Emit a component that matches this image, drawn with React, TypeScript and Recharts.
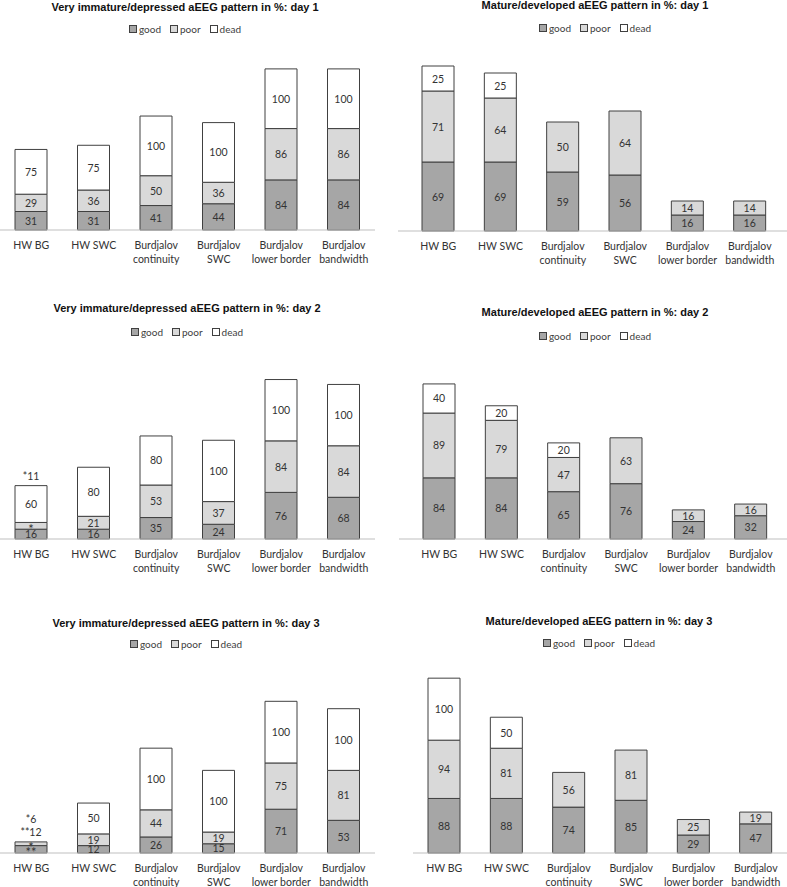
import React from 'react';
import { BarChart, Bar, XAxis, YAxis, LabelList } from 'recharts';

const categories = [
  'HW BG',
  'HW SWC',
  'Burdjalov continuity',
  'Burdjalov SWC',
  'Burdjalov lower border',
  'Burdjalov bandwidth',
];

const seriesNames = ['good', 'poor', 'dead'];

// very immature / depressed pattern
const immatureDay1Good = [31, 31, 41, 44, 84, 84];
const immatureDay1Poor = [29, 36, 50, 36, 86, 86];
const immatureDay1Dead = [75, 75, 100, 100, 100, 100];

const immatureDay2Good = [16, 16, 35, 24, 76, 68];
const immatureDay2Poor = [11, 21, 53, 37, 84, 84];
const immatureDay2Dead = [60, 80, 80, 100, 100, 100];
const immatureDay2PoorText = ['*', null, null, null, null, null];
const immatureDay2Notes = ['*11', '', '', '', '', ''];

const immatureDay3Good = [12, 12, 26, 15, 71, 53];
const immatureDay3Poor = [6, 19, 44, 19, 75, 81];
const immatureDay3Dead = [null, 50, 100, 100, 100, 100];
const immatureDay3GoodText = ['**', null, null, null, null, null];
const immatureDay3PoorText = ['*', null, null, null, null, null];
const immatureDay3Notes = ['*6\n**12', '', '', '', '', ''];

// mature / developed pattern
const matureDay1Good = [69, 69, 59, 56, 16, 16];
const matureDay1Poor = [71, 64, 50, 64, 14, 14];
const matureDay1Dead = [25, 25, null, null, null, null];

const matureDay2Good = [84, 84, 65, 76, 24, 32];
const matureDay2Poor = [89, 79, 47, 63, 16, 16];
const matureDay2Dead = [40, 20, 20, null, null, null];

const matureDay3Good = [88, 88, 74, 85, 29, 47];
const matureDay3Poor = [94, 81, 56, 81, 25, 19];
const matureDay3Dead = [100, 50, null, null, null, null];

type Cell = number | null;
type Text = string | null;

interface PanelSpec {
  title: string;
  good: Cell[];
  poor: Cell[];
  dead: Cell[];
  yMax: number;
  goodText?: Text[];
  poorText?: Text[];
  notes?: string[];
}

const panels: PanelSpec[] = [
  { title: 'Very immature/depressed aEEG pattern in %: day 1', good: immatureDay1Good, poor: immatureDay1Poor, dead: immatureDay1Dead, yMax: 300 },
  { title: 'Mature/developed aEEG pattern in %: day 1', good: matureDay1Good, poor: matureDay1Poor, dead: matureDay1Dead, yMax: 180 },
  { title: 'Very immature/depressed aEEG pattern in %: day 2', good: immatureDay2Good, poor: immatureDay2Poor, dead: immatureDay2Dead, yMax: 300, poorText: immatureDay2PoorText, notes: immatureDay2Notes },
  { title: 'Mature/developed aEEG pattern in %: day 2', good: matureDay2Good, poor: matureDay2Poor, dead: matureDay2Dead, yMax: 250 },
  { title: 'Very immature/depressed aEEG pattern in %: day 3', good: immatureDay3Good, poor: immatureDay3Poor, dead: immatureDay3Dead, yMax: 300, goodText: immatureDay3GoodText, poorText: immatureDay3PoorText, notes: immatureDay3Notes },
  { title: 'Mature/developed aEEG pattern in %: day 3', good: matureDay3Good, poor: matureDay3Poor, dead: matureDay3Dead, yMax: 300 },
];

// where each panel sits on the page
const layouts = [
  { left: 0, width: 375, plotTop: 51, plotHeight: 179, padLeft: 0, padRight: 0, titleX: 185, titleY: 7, legendY: 29 },
  { left: 398, width: 389, plotTop: 51, plotHeight: 180, padLeft: 9, padRight: 6, titleX: 595, titleY: 5, legendY: 28 },
  { left: 0, width: 375, plotTop: 355, plotHeight: 184, padLeft: 0, padRight: 0, titleX: 187, titleY: 308, legendY: 332 },
  { left: 399, width: 388, plotTop: 357, plotHeight: 182, padLeft: 9, padRight: 5, titleX: 595, titleY: 312, legendY: 336 },
  { left: 0, width: 375, plotTop: 668, plotHeight: 185, padLeft: 0, padRight: 0, titleX: 186, titleY: 623, legendY: 644 },
  { left: 413, width: 374, plotTop: 667, plotHeight: 186, padLeft: 0, padRight: 0, titleX: 599, titleY: 621, legendY: 643 },
];

const COLORS: Record<string, string> = { good: '#a6a6a6', poor: '#d9d9d9', dead: '#ffffff' };
const EDGE = '#404040';
const LABEL_FONT = 'Lato, "Open Sans", sans-serif';

const CategoryTick = ({ x, y, payload }: any) => {
  const label: string = payload.value;
  const lines = label.startsWith('Burdjalov ') ? ['Burdjalov', label.slice(10)] : [label];
  return (
    <text x={x} y={y} textAnchor="middle" fill="#333" fontSize={10.5} fontFamily={LABEL_FONT}>
      {lines.map((l, i) => (
        <tspan key={i} x={x} y={y + 19 + i * 13.5}>
          {l}
        </tspan>
      ))}
    </text>
  );
};

const boxOf = (props: any) =>
  props.viewBox && props.viewBox.width !== undefined ? props.viewBox : props;

const SegmentLabel = (props: any) => {
  const { x, y, width, height } = boxOf(props);
  const { value } = props;
  if (value === null || value === undefined || value === '') return null;
  const star = typeof value === 'string' && value.startsWith('*');
  return (
    <text
      x={x + width / 2}
      y={y + height / 2 + (star ? 3 : 0)}
      textAnchor="middle"
      dominantBaseline="central"
      fill="#333"
      fontSize={star ? 13 : 10.5}
      fontFamily={LABEL_FONT}
    >
      {value}
    </text>
  );
};

// footnote text written above the top of a stack
const NoteLabel = (props: any) => {
  const { x, y, width } = boxOf(props);
  const { value } = props;
  if (!value) return null;
  const lines = String(value).split('\n');
  return (
    <text textAnchor="middle" fill="#333" fontSize={10.5} fontFamily={LABEL_FONT}>
      {lines.map((l, i) => (
        <tspan key={i} x={x + width / 2} y={y - 6 - (lines.length - 1 - i) * 12.5}>
          {l}
        </tspan>
      ))}
    </text>
  );
};

function Legend({ x, y }: { x: number; y: number }) {
  return (
    <div
      style={{
        position: 'absolute',
        left: x - 100,
        width: 200,
        top: y - 7,
        height: 14,
        display: 'flex',
        justifyContent: 'center',
        alignItems: 'center',
        gap: 9,
        fontFamily: LABEL_FONT,
        fontSize: 10,
        color: '#404040',
      }}
    >
      {seriesNames.map((s) => (
        <span key={s} style={{ display: 'flex', alignItems: 'center', gap: 2 }}>
          <span
            style={{
              display: 'inline-block',
              width: 6,
              height: 6,
              background: COLORS[s],
              border: `1px solid ${EDGE}`,
            }}
          />
          {s}
        </span>
      ))}
    </div>
  );
}

function Panel({ spec, layout }: { spec: PanelSpec; layout: (typeof layouts)[number] }) {
  const data = categories.map((name, i) => {
    const row: any = {
      name,
      good: spec.good[i],
      poor: spec.poor[i],
      dead: spec.dead[i],
      goodText: spec.goodText?.[i] ?? spec.good[i],
      poorText: spec.poorText?.[i] ?? spec.poor[i],
      deadText: spec.dead[i],
    };
    // the note goes on whichever segment is on top of the stack
    const note = spec.notes?.[i] ?? '';
    const top = [...seriesNames].reverse().find((s) => row[s] !== null && row[s] !== undefined);
    seriesNames.forEach((s) => {
      row[`${s}Note`] = s === top ? note : '';
    });
    return row;
  });
  const axisHeight = 45;
  return (
    <>
      <div
        style={{
          position: 'absolute',
          left: layout.titleX - 200,
          width: 400,
          top: layout.titleY - 7,
          lineHeight: '14px',
          textAlign: 'center',
          fontFamily: '"Liberation Sans", Arial, sans-serif',
          fontWeight: 'bold',
          fontSize: 11,
          color: '#111',
        }}
      >
        {spec.title}
      </div>
      <Legend x={layout.titleX} y={layout.legendY} />
      <div style={{ position: 'absolute', left: layout.left, top: layout.plotTop }}>
        <BarChart
          width={layout.width}
          height={layout.plotHeight + axisHeight}
          data={data}
          margin={{ top: 0, right: 0, bottom: 0, left: 0 }}
          barSize={32}
        >
          <YAxis hide type="number" domain={[0, spec.yMax]} />
          <XAxis
            dataKey="name"
            height={axisHeight}
            interval={0}
            axisLine={{ stroke: '#bfbfbf', strokeWidth: 1 }}
            tickLine={false}
            tickSize={0}
            tickMargin={0}
            tick={<CategoryTick />}
            padding={{ left: layout.padLeft, right: layout.padRight }}
          />
          {seriesNames.map((s) => (
            <Bar
              key={s}
              dataKey={s}
              stackId="s"
              fill={COLORS[s]}
              stroke={EDGE}
              strokeWidth={1}
              isAnimationActive={false}
            >
              <LabelList dataKey={`${s}Text`} content={SegmentLabel} />
              <LabelList dataKey={`${s}Note`} content={NoteLabel} />
            </Bar>
          ))}
        </BarChart>
      </div>
    </>
  );
}

export default function App() {
  return (
    <div
      style={{
        position: 'absolute',
        left: 0,
        top: 0,
        width: 787,
        height: 887,
        background: '#fff',
        overflow: 'hidden',
      }}
    >
      {panels.map((p, i) => (
        <Panel key={i} spec={p} layout={layouts[i]} />
      ))}
    </div>
  );
}
